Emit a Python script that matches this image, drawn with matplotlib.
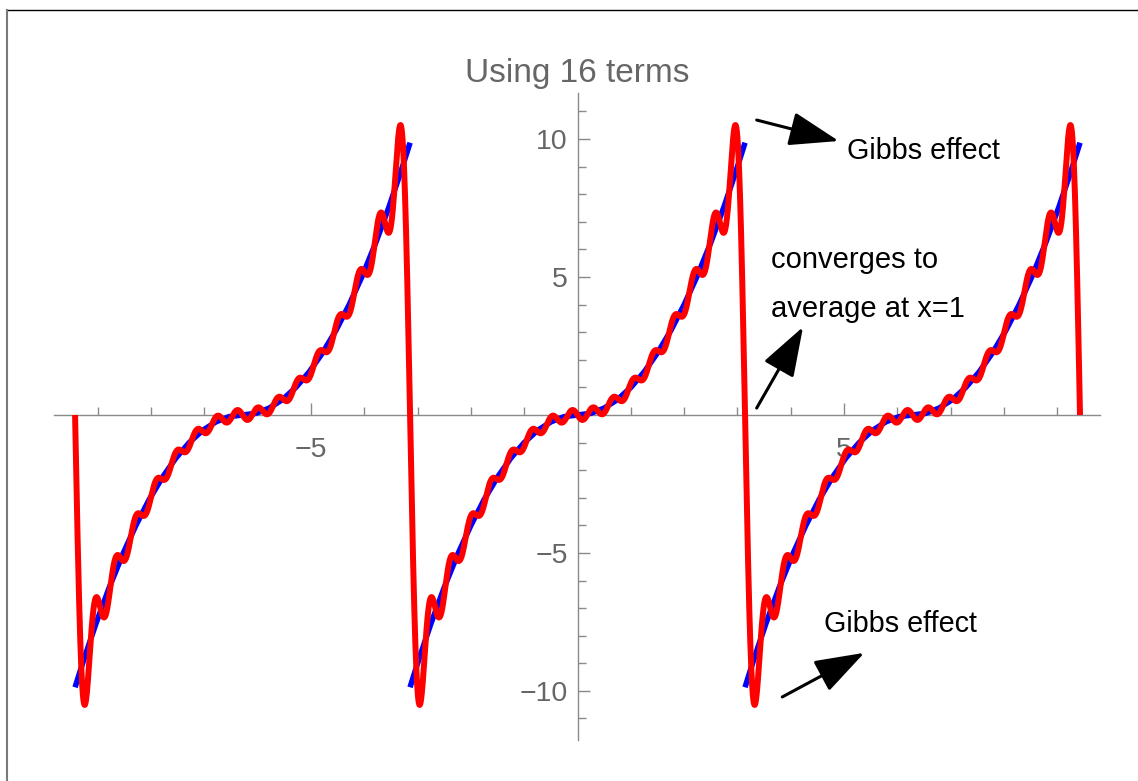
import numpy as np
import matplotlib
matplotlib.use("Agg")
import matplotlib.pyplot as plt
from matplotlib.lines import Line2D

plt.rcParams['font.family'] = ['Liberation Sans', 'DejaVu Sans']

# blue curve: one period of f(x), repeated every 2*pi
blue_x = [-3.1416, -3.0, -2.75, -2.5, -2.25, -2.0, -1.75, -1.5, -1.25, -1.0,
          -0.75, -0.5, -0.25, 0.0, 0.25, 0.5, 0.75, 1.0, 1.25, 1.5, 1.75,
          2.0, 2.25, 2.5, 2.75, 3.0, 3.1416]
blue_y = [-9.87, -9.0, -7.56, -6.25, -5.06, -4.0, -3.06, -2.25, -1.56, -1.0,
          -0.56, -0.25, -0.06, 0.0, 0.06, 0.25, 0.56, 1.0, 1.56, 2.25, 3.06,
          4.0, 5.06, 6.25, 7.56, 9.0, 9.87]
period_shifts = [-2 * np.pi, 0.0, 2 * np.pi]

# red curve: the 16 sine coefficients of the partial sum
sine_coeffs = [3.7367, -3.1416, 2.0001, -1.5708, 1.2362, -1.0472, 0.8902, -0.7854,
               0.6946, -0.6283, 0.5693, -0.5236, 0.4821, -0.4488, 0.4181, -0.3927]
red_range = [-3 * np.pi, 3 * np.pi]

x_major = [-5, 5]
x_minor = [-9, -8, -7, -6, -4, -3, -2, -1, 1, 2, 3, 4, 6, 7, 8, 9]
y_major = [-10, -5, 5, 10]
y_minor = [-11, -9, -8, -7, -6, -4, -3, -2, -1, 1, 2, 3, 4, 6, 7, 8, 9, 11]

W, H = 1138, 781
fig = plt.figure(figsize=(W / 100, H / 100), dpi=100)
ax = fig.add_axes([54 / W, 41 / H, 1046 / W, 647 / H])
ax.set_xlim(-9.82, 9.80)
ax.set_ylim(-11.78, 11.67)

axis_gray = '#8a8a8a'
label_gray = '#666666'

# axes through the origin, Mathematica style
for side in ['top', 'right']:
    ax.spines[side].set_visible(False)
ax.spines['left'].set_position(('data', 0))
ax.spines['bottom'].set_position(('data', 0))
for side in ['left', 'bottom']:
    ax.spines[side].set_color(axis_gray)
    ax.spines[side].set_linewidth(1.0)
    ax.spines[side].set_zorder(1)

ax.set_xticks(x_major)
ax.set_xticks(x_minor, minor=True)
ax.set_yticks(y_major)
ax.set_yticks(y_minor, minor=True)
ax.set_xticklabels(['\u22125', '5'])
ax.set_yticklabels(['\u221210', '\u22125', '5', '10'])
ax.tick_params(which='both', direction='in', color=axis_gray, width=1.0,
               labelcolor=label_gray, labelsize=20.5)
ax.tick_params(which='major', length=8.5)
ax.tick_params(which='minor', length=5.5)
ax.tick_params(axis='x', which='major', pad=16)
ax.tick_params(axis='y', which='major', pad=7)

# curves
for s in period_shifts:
    ax.plot(np.array(blue_x) + s, blue_y, color='#0000ff', lw=4.0,
            solid_capstyle='butt', zorder=3)

xs = np.linspace(red_range[0], red_range[1], 4000)
ys = np.zeros_like(xs)
for n, b in enumerate(sine_coeffs, start=1):
    ys += b * np.sin(n * xs)
ax.plot(xs, ys, color='#ff0000', lw=4.3, solid_capstyle='butt', zorder=4)

ax.set_title('Using 16 terms', fontsize=24, color=label_gray, pad=8)

# annotations
arrow = dict(arrowstyle='-|>,head_length=1.4,head_width=0.48', color='black',
             lw=2.2, mutation_scale=22, shrinkA=0, shrinkB=0)
ax.annotate('', xy=(4.90, 9.93), xytext=(3.36, 10.69), arrowprops=arrow)
ax.annotate('', xy=(4.23, 3.19), xytext=(3.36, 0.25), arrowprops=arrow)
ax.annotate('', xy=(5.38, -8.62), xytext=(3.84, -10.22), arrowprops=arrow)

ax.text(5.05, 9.28, 'Gibbs effect', fontsize=20.7, va='baseline', ha='left')
ax.text(3.63, 5.33, 'converges to', fontsize=21, va='baseline', ha='left')
ax.text(3.63, 3.56, 'average at x=1', fontsize=21, va='baseline', ha='left')
ax.text(4.62, -7.88, 'Gibbs effect', fontsize=20.7, va='baseline', ha='left')

# thin frame on top and left of the picture
fig.add_artist(Line2D([7 / W, 1], [1 - 10 / H, 1 - 10 / H], color='black', lw=1.0))
fig.add_artist(Line2D([7 / W, 7 / W], [0, 1 - 10 / H], color='#7a7a7a', lw=1.5))

fig.savefig('out.png', dpi=100)
